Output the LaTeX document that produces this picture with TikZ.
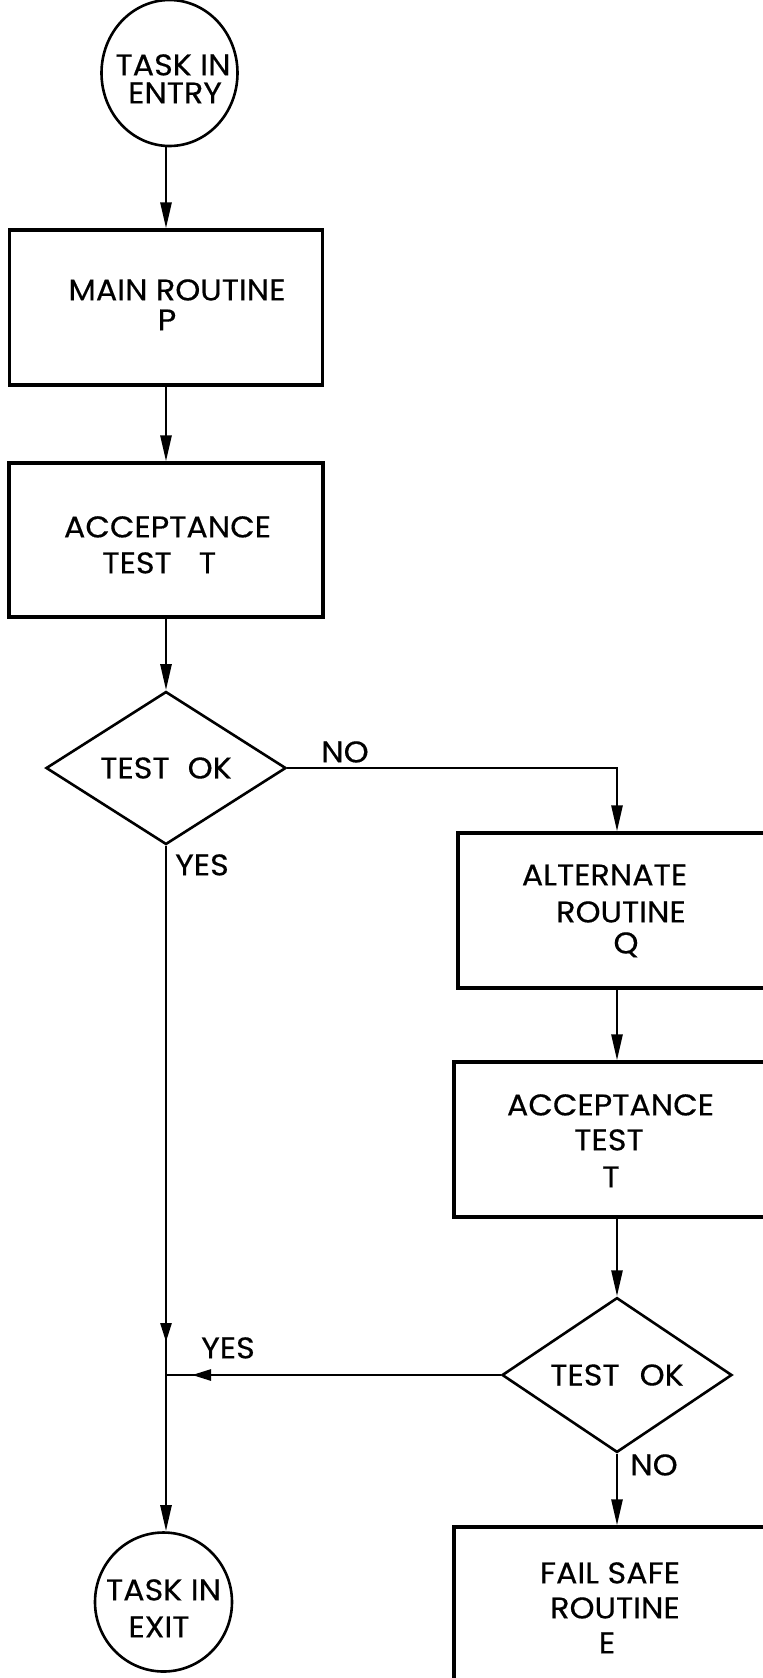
\documentclass[tikz,border=0pt]{standalone}
\usepackage{fontspec}
\newfontfamily\flowfont{Poppins}[FakeBold=0.35, FakeStretch=1.06]
\usetikzlibrary{shapes.geometric,arrows.meta,decorations.markings}

\tikzset{
  box/.style={draw, rectangle, line width=1.6pt, inner sep=0pt},
  term/.style={draw, ellipse, line width=1.3pt, inner sep=0pt},
  decide/.style={draw, diamond, line width=1.3pt, inner sep=0pt},
  txt/.style={inner sep=0pt, text height=10.4pt, text depth=0pt},
  link/.style={line width=1.3pt},
  arr/.style={link, -{Triangle[length=13pt,width=5.5pt]}},
  tipat/.style={postaction={decorate},
    decoration={markings, mark=at position -#1 with {\arrow{Triangle[length=9.5pt,width=5.5pt]}}}}
}

\begin{document}
\begin{tikzpicture}[x=0.5pt, y=-0.5pt, font=\flowfont\fontsize{15}{18}\selectfont]
\useasboundingbox (0,0) rectangle (763,1678);
\clip (0,0) rectangle (763,1678);

% flowchart shapes
\node[term, minimum width=68pt, minimum height=73pt] (entry) at (169.5,73) {};
\node[box, minimum width=156.5pt, minimum height=77.5pt] (main) at (166,307.5) {};
\node[box, minimum width=157pt, minimum height=77pt] (acc1) at (166,540) {};
\node[decide, minimum width=120pt, minimum height=76.5pt] (dec1) at (166,768) {TEST\hspace{9pt}OK};
\node[box, minimum width=159pt, minimum height=77.5pt] (alt) at (617,910.5) {};
\node[box, minimum width=163pt, minimum height=77.5pt] (acc2) at (617,1139.5) {};
\node[decide, minimum width=115pt, minimum height=72.5pt] (dec2) at (617,1375) {TEST\hspace{10pt}OK};
\node[box, minimum width=163pt, minimum height=77.5pt] (fail) at (617,1604.5) {};
\node[term, minimum width=68.5pt, minimum height=69.5pt] (exit) at (163.5,1602) {};

% box captions
\node[txt] (entryA) at (173,65) {TASK IN};
\node[txt] (entryB) at (175,93) {ENTRY};
\node[txt] (mainA) at (177,290) {MAIN ROUTINE};
\node[txt] (mainB) at (167,320) {P};
\node[txt] (acc1A) at (167.5,527) {ACCEPTANCE};
\node[txt, anchor=west] (acc1B) at (102,563) {TEST};
\node[txt] (acc1C) at (207.5,563) {T};
\node[txt] (altA) at (604.5,875) {ALTERNATE};
\node[txt] (altB) at (621,912) {ROUTINE};
\node[txt] (altC) at (626,943) {Q};
\node[txt] (acc2A) at (610.5,1105) {ACCEPTANCE};
\node[txt] (acc2B) at (609,1140) {TEST};
\node[txt] (acc2C) at (611,1177) {T};
\node[txt] (failA) at (610,1573) {FAIL SAFE};
\node[txt] (failB) at (615,1608) {ROUTINE};
\node[txt] (failC) at (607,1643) {E};
\node[txt] (exitA) at (163.5,1590) {TASK IN};
\node[txt] (exitB) at (159,1627) {EXIT};

% branch labels
\node[txt] (no1) at (345,752) {NO};
\node[txt] (yes1) at (202,865) {YES};
\node[txt] (yes2) at (228,1348) {YES};
\node[txt] (no2) at (654,1465) {NO};

% connectors
\draw[arr] (entry.south -| main.north) -- (main.north);
\draw[arr] (main) -- (acc1);
\draw[arr] (acc1) -- (dec1);
\draw[arr] (dec1.east) -| (alt.north);
\draw[arr] (alt) -- (acc2);
\draw[arr] (acc2) -- (dec2);
\draw[arr] (dec2) -- (fail);
\coordinate (join) at (dec1.south |- dec2.west);
\draw[link, tipat=16.5pt] (dec1.south) -- (join);
\draw[link, tipat=13pt] (dec2.west) -- (join);
\draw[arr] (join) -- (join |- exit.north);
\end{tikzpicture}
\end{document}
